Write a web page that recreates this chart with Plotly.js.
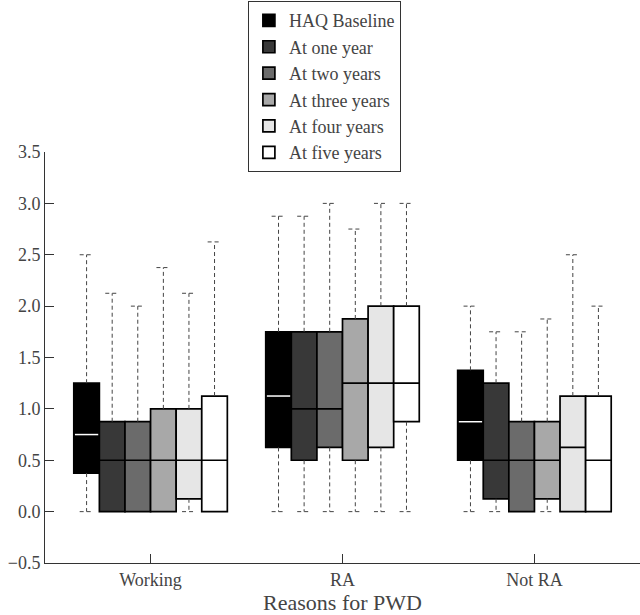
<!DOCTYPE html>
<html>
<head>
<meta charset="utf-8">
<script src="https://cdn.plot.ly/plotly-3.0.1.min.js"></script>
</head>
<body style="margin:0">
<div id="chart" style="width:640px;height:615px"></div>
<script>
// ---- data ----
const categories = ['Working', 'RA', 'Not RA'];
const seriesNames = ['HAQ Baseline', 'At one year', 'At two years', 'At three years', 'At four years', 'At five years'];
const seriesColors = ['#000000', '#383838', '#6b6b6b', '#a8a8a8', '#e6e6e6', '#ffffff'];
// per series: values for [Working, RA, Not RA]
const minVals = [
  [0, 0, 0], [0, 0, 0], [0, 0, 0], [0, 0, 0], [0, 0, 0], [0, 0, 0]
];
const q1Vals = [
  [0.375, 0.625, 0.5],
  [0, 0.5, 0.125],
  [0, 0.625, 0],
  [0, 0.5, 0.125],
  [0.125, 0.625, 0],
  [0, 0.875, 0]
];
const medianVals = [
  [0.75, 1.125, 0.875],
  [0.5, 1.0, 0.5],
  [0.5, 1.0, 0.5],
  [0.5, 1.25, 0.5],
  [0.5, 1.25, 0.625],
  [0.5, 1.25, 0.5]
];
const q3Vals = [
  [1.25, 1.75, 1.375],
  [0.875, 1.75, 1.25],
  [0.875, 1.75, 0.875],
  [1.0, 1.875, 0.875],
  [1.0, 2.0, 1.125],
  [1.125, 2.0, 1.125]
];
const maxVals = [
  [2.5, 2.875, 2.0],
  [2.125, 2.875, 1.75],
  [2.0, 3.0, 1.75],
  [2.375, 2.75, 1.875],
  [2.125, 3.0, 2.5],
  [2.625, 3.0, 2.0]
];

// ---- build ----
const nS = seriesNames.length;
const groupWidth = 0.8;
const bw = groupWidth / nS;
const capHalf = bw * 0.27;
const catIdx = categories.map((c, j) => j);
const posOf = (i, j) => j + (i - (nS - 1) / 2) * bw;

const boxTraces = [];
const lineTraces = [];
for (let i = 0; i < nS; i++) {
  const xs = catIdx.map(j => posOf(i, j));
  boxTraces.push({
    type: 'box',
    name: seriesNames[i],
    x: xs,
    q1: q1Vals[i],
    median: medianVals[i],
    q3: q3Vals[i],
    lowerfence: q1Vals[i],
    upperfence: q3Vals[i],
    width: bw,
    whiskerwidth: 0,
    boxpoints: false,
    fillcolor: seriesColors[i],
    line: {color: '#000000', width: 1.7},
    hoverinfo: 'skip'
  });
  const wx = [], wy = [];
  catIdx.forEach(j => {
    const p = xs[j];
    wx.push(p, p, null, p - capHalf, p + capHalf, null);
    wy.push(q3Vals[i][j], maxVals[i][j], null, maxVals[i][j], maxVals[i][j], null);
    if (minVals[i][j] < q1Vals[i][j]) {
      wx.push(p, p, null, p - capHalf, p + capHalf, null);
      wy.push(q1Vals[i][j], minVals[i][j], null, minVals[i][j], minVals[i][j], null);
    }
  });
  lineTraces.push({
    type: 'scatter', mode: 'lines', x: wx, y: wy, showlegend: false, hoverinfo: 'skip',
    line: {color: '#444444', width: 1, dash: '4px,3px'}
  });
}
// white median for the black baseline boxes
const mx = [], my = [];
catIdx.forEach(j => {
  const p = posOf(0, j);
  mx.push(p - bw / 2 + 0.006, p + bw / 2 - 0.006, null);
  my.push(medianVals[0][j], medianVals[0][j], null);
});
lineTraces.push({
  type: 'scatter', mode: 'lines', x: mx, y: my, showlegend: false, hoverinfo: 'skip',
  line: {color: '#ffffff', width: 1.5}
});

const layout = {
  width: 640, height: 615,
  margin: {l: 45, r: 0, t: 152, b: 52},
  showlegend: true,
  boxmode: 'overlay',
  font: {family: 'Liberation Serif', size: 18},
  xaxis: {
    range: [-0.55, 2.55],
    tickvals: catIdx, ticktext: categories,
    ticks: 'inside', ticklen: 9, tickcolor: '#333', tickwidth: 1,
    showline: true, linecolor: '#333', linewidth: 1,
    showgrid: false, zeroline: false,
    title: {text: 'Reasons for PWD', standoff: 10}
  },
  yaxis: {
    range: [-0.5, 3.5], dtick: 0.5, tick0: 0, tickformat: '.1f',
    ticks: 'inside', ticklen: 9, tickcolor: '#333', tickwidth: 1,
    showline: true, linecolor: '#333', linewidth: 1,
    showgrid: false, zeroline: false
  },
  legend: {
    x: 0.341, xanchor: 'left', y: 1.367, yanchor: 'top',
    bgcolor: '#ffffff', bordercolor: '#333', borderwidth: 1
  }
};
Plotly.newPlot('chart', boxTraces.concat(lineTraces), layout, {staticPlot: true});
</script>
</body>
</html>
